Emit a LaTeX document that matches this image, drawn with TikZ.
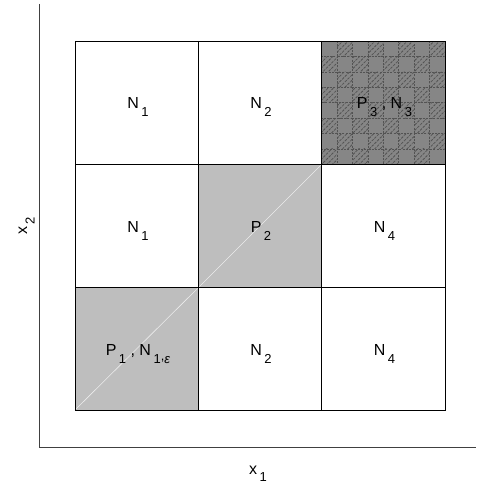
\documentclass[tikz,border=0pt]{standalone}
\usepackage{fontspec}
\setmainfont{Liberation Sans}
\usetikzlibrary{patterns.meta}
\definecolor{cellgray}{HTML}{BEBEBE}
\definecolor{darkcell}{HTML}{868686}
\definecolor{hatchcol}{HTML}{535353}
\definecolor{axiscol}{HTML}{404040}
\newcommand{\mainsz}{\fontsize{16}{16}\selectfont}
\newcommand{\subsz}{\fontsize{13}{13}\selectfont}
\newcommand{\sbx}[1]{\hspace{2.5pt}\raisebox{-7.7pt}{\subsz #1}}
\newcommand{\lab}[2]{#1\sbx{#2}}
\begin{document}
\begin{tikzpicture}[x=1pt,y=-1pt,
  gridline/.style={draw=black,line width=0.9pt},
  axisline/.style={draw=axiscol,line width=0.9pt},
  celllabel/.style={font=\mainsz,inner sep=0pt,anchor=base},
  diagline/.style={draw=white!85!gray,line width=0.6pt},
  hatchsq/.style={pattern={Lines[angle=45,distance=3.8pt,line width=0.8pt]},pattern color=hatchcol,draw=hatchcol,line width=0.6pt,dash pattern=on 2pt off 1.2pt}]
\useasboundingbox (0,0) rectangle (476,486);
\fill[white] (0,0) rectangle (476,486);
% coordinates of grid
\coordinate (g00) at (75,41);
\coordinate (g33) at (445,410);
% gray cells
\fill[cellgray] (75,287.7) rectangle (198.3,410);
\draw[diagline] (75,410) -- (198.3,287.7);
\fill[cellgray] (198.3,164.3) rectangle (321.7,287.7);
\draw[diagline] (198.3,287.7) -- (321.7,164.3);
% dark checker cell
\fill[darkcell] (321.7,41) rectangle (445,164.3);
\begin{scope}
\clip (322.2,41.5) rectangle (444.5,163.8);
\foreach \i in {0,...,7}{
  \foreach \j in {0,...,7}{
    \pgfmathtruncatemacro{\myparity}{mod(\i+\j,2)}
    \ifnum\myparity=1
      \path[hatchsq] ({321.7+\i*15.41},{41+\j*15.41}) rectangle ++(15.41,15.41);
    \fi
  }
}
\end{scope}
% grid
\draw[gridline] (g00) rectangle (g33);
\draw[gridline] (198.3,41) -- (198.3,410);
\draw[gridline] (321.7,41) -- (321.7,410);
\draw[gridline] (75,164.3) -- (445,164.3);
\draw[gridline] (75,287.7) -- (445,287.7);
% axes
\coordinate (ax0) at (39,447.7);
\coordinate (axtop) at (39,4);
\coordinate (axright) at (476,447.7);
\draw[axisline] (axtop) -- (ax0) -- (axright);
% labels
\node[celllabel] (n11) at (138,109) {\lab{N}{1}};
\node[celllabel] (n12) at (261,109) {\lab{N}{2}};
\node[celllabel] (n13) at (384.5,109) {\lab{P}{3} , \lab{N}{3}};
\node[celllabel] (n21) at (138,232.4) {\lab{N}{1}};
\node[celllabel] (n22) at (261,232.4) {\lab{P}{2}};
\node[celllabel] (n23) at (384.5,232.4) {\lab{N}{4}};
\node[celllabel] (n31) at (138,355.7) {\lab{P}{1} , N\sbx{1\raisebox{3pt}{,}\textit{ε}}};
\node[celllabel] (n32) at (261,355.7) {\lab{N}{2}};
\node[celllabel] (n33) at (384.5,355.7) {\lab{N}{4}};
\node[celllabel] (xlab) at (258,474) {\lab{x}{1}};
\node[celllabel,rotate=90] (ylab) at (27,226) {\lab{x}{2}};
\end{tikzpicture}
\end{document}
